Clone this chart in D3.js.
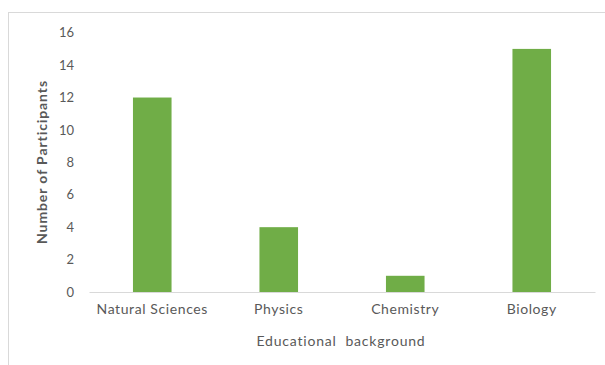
<!DOCTYPE html>
<html>
<head>
<meta charset="utf-8">
<script src="https://cdn.jsdelivr.net/npm/d3@7"></script>
<style>
  body { margin: 0; background: #fff; }
  text { font-family: Lato, "Open Sans", sans-serif; fill: #595959; }
</style>
</head>
<body>
<div id="chart-container"></div>
<script>
// data
const categories = ["Natural Sciences", "Physics", "Chemistry", "Biology"];
const participants = [12, 4, 1, 15];
const yTicks = [0, 2, 4, 6, 8, 10, 12, 14, 16];

const W = 605, H = 365;
const margin = { top: 32.7, right: 10, bottom: 73, left: 89 };
const width = 595 - margin.left;
const height = 292 - margin.top;

const svg = d3.select("#chart-container")
  .append("svg")
    .attr("width", W)
    .attr("height", H);

// outer chart border
svg.append("rect")
  .attr("x", 8.5).attr("y", 12.5)
  .attr("width", W)
  .attr("height", H)
  .attr("fill", "none")
  .attr("stroke", "#d9d9d9");

const g = svg.append("g")
  .attr("transform", `translate(${margin.left}, ${margin.top})`);

const x = d3.scaleBand().domain(categories).range([0, width]).paddingInner(0.695).paddingOuter(0.3475);
const y = d3.scaleLinear().domain([0, 16]).range([height, 0]);

// bars
g.selectAll(".bar")
  .data(categories)
  .join("rect")
    .attr("class", "bar")
    .attr("x", d => x(d))
    .attr("width", x.bandwidth())
    .attr("y", (d, i) => y(participants[i]))
    .attr("height", (d, i) => height - y(participants[i]))
    .attr("fill", "#70ad47");

// y axis (labels only)
const yAxis = g.append("g")
  .call(d3.axisLeft(y).tickValues(yTicks).tickSize(0).tickPadding(15));
yAxis.select(".domain").remove();
yAxis.selectAll("text")
  .style("font-size", "13px")
  .style("font-family", "Lato, sans-serif")
  .attr("fill", "#595959");

// x axis
const xAxis = g.append("g")
  .attr("transform", `translate(0, ${height})`)
  .call(d3.axisBottom(x).tickSize(0).tickPadding(12));
xAxis.select(".domain").attr("stroke", "#d9d9d9");
xAxis.selectAll("text")
  .style("font-size", "14px")
  .style("font-family", "Lato, sans-serif")
  .style("letter-spacing", "0.6px")
  .attr("fill", "#595959");

// axis titles
svg.append("text")
  .attr("transform", "translate(47, 162) rotate(-90)")
  .attr("text-anchor", "middle")
  .style("font-size", "14px")
  .style("font-weight", "bold")
  .style("letter-spacing", "0.9px")
  .text("Number of Participants");

svg.append("text")
  .attr("x", 341)
  .attr("y", 346)
  .attr("text-anchor", "middle")
  .style("font-size", "14px")
  .style("letter-spacing", "0.8px")
  .style("white-space", "pre")
  .text("Educational  background");
</script>
</body>
</html>
